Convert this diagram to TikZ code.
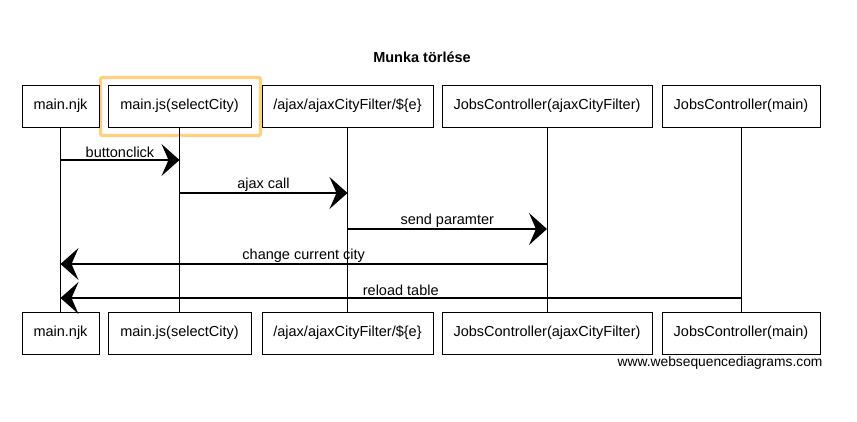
\documentclass[tikz,border=0pt]{standalone}
\usepackage{fontspec}
\setmainfont{Liberation Sans}
\usepackage{tikz}
\usetikzlibrary{arrows.meta,calc}
\definecolor{hlorange}{RGB}{255,208,128}

\begin{document}
\begin{tikzpicture}[x=1pt,y=-1pt,
  every node/.style={font=\fontsize{14.5}{17}\selectfont},
  actor/.style={draw,line width=.9pt,minimum height=42pt,inner sep=0pt},
  life/.style={line width=.8pt},
  msg/.style={line width=1.2pt,-{Stealth[length=18pt,width=32pt,inset=7pt]}},
  lbl/.style={midway,yshift=8pt}]
\useasboundingbox (0,0) rectangle (857,421);
\node[font=\fontsize{14.5}{17}\selectfont\bfseries] (title) at (422,57) {Munka törlése};
\draw[hlorange,line width=3.3pt,rounded corners=2pt] (100.5,77.5) rectangle (260.5,135.5);
\node[actor,minimum width=77pt] (njkT) at (60.5,106) {main.njk};
\node[actor,minimum width=143pt] (jsT) at (179.5,106) {main.js(selectCity)};
\node[actor,minimum width=171pt] (ajaxT) at (347.5,106) {/ajax/ajaxCityFilter/\$\{e\}};
\node[actor,minimum width=210pt] (jcaT) at (547,106) {JobsController(ajaxCityFilter)};
\node[actor,minimum width=158pt] (jcmT) at (741,106) {JobsController(main)};
\node[actor,minimum width=77pt] (njkB) at (60.5,333) {main.njk};
\node[actor,minimum width=143pt] (jsB) at (179.5,333) {main.js(selectCity)};
\node[actor,minimum width=171pt] (ajaxB) at (347.5,333) {/ajax/ajaxCityFilter/\$\{e\}};
\node[actor,minimum width=210pt] (jcaB) at (547,333) {JobsController(ajaxCityFilter)};
\node[actor,minimum width=158pt] (jcmB) at (741,333) {JobsController(main)};
\foreach \a in {njk,js,ajax,jca,jcm}
  \draw[life] (\a T) -- (\a B);
\draw[msg] (njkT.south |- 0,160) -- (jsT.south |- 0,160) node[lbl]{buttonclick};
\draw[msg] (jsT.south |- 0,193) -- (ajaxT.south |- 0,193) node[lbl]{ajax call};
\draw[msg] (ajaxT.south |- 0,229) -- (jcaT.south |- 0,229) node[lbl]{send paramter};
\draw[msg] (jcaT.south |- 0,264) -- (njkT.south |- 0,264) node[lbl]{change current city};
\draw[msg] (jcmT.south |- 0,298) -- (njkT.south |- 0,298) node[lbl]{reload table};
\node[anchor=east,font=\fontsize{13.8}{16}\selectfont] (wsd) at (826,363) {www.websequencediagrams.com};
\end{tikzpicture}
\end{document}
